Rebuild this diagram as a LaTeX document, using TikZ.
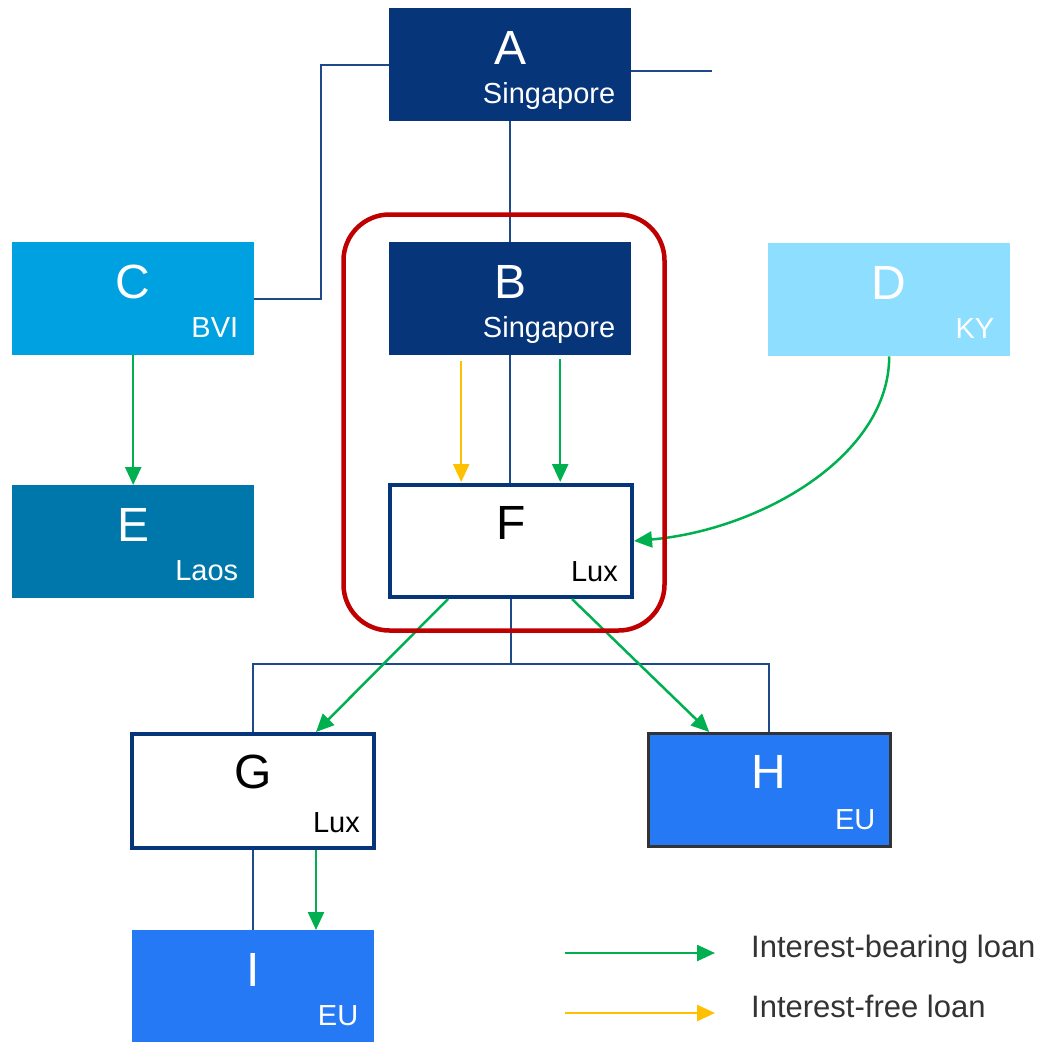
\documentclass[tikz,border=0pt]{standalone}
\usepackage{fontspec}
\setmainfont{Liberation Sans}
\usetikzlibrary{arrows.meta,calc}
\definecolor{navy}{HTML}{06357A}
\definecolor{linkblue}{HTML}{1F4A8A}
\definecolor{cyanbox}{HTML}{00A1E0}
\definecolor{skybox}{HTML}{8EDFFF}
\definecolor{tealbox}{HTML}{0077AA}
\definecolor{eubox}{HTML}{2679F5}
\definecolor{loangreen}{HTML}{00B050}
\definecolor{loanorange}{HTML}{FFC000}
\definecolor{groupred}{HTML}{C00000}
\definecolor{legendtext}{HTML}{333333}
\tikzset{
  entity/.style={inner sep=0pt, minimum width=242pt, minimum height=113pt, anchor=north west},
  luxbox/.style={entity, fill=white, draw=navy, line width=4pt},
  bigl/.style={font=\fontsize{48}{48}\selectfont, anchor=base, inner sep=0pt},
  subl/.style={font=\fontsize{29}{29}\selectfont, anchor=base east, inner sep=0pt},
  conn/.style={draw=linkblue, line width=2pt},
  gloan/.style={draw=loangreen, line width=2.5pt, -{Triangle[length=18pt,width=16pt]}},
  floan/.style={draw=loanorange, line width=2.5pt, -{Triangle[length=18pt,width=16pt]}},
  legtext/.style={font=\fontsize{31}{31}\selectfont, text=legendtext, anchor=base west, inner sep=0pt}
}
\begin{document}
\begin{tikzpicture}[x=1pt, y=-1pt]
\useasboundingbox (0,0) rectangle (1043,1041);

% entity boxes
\node[entity, fill=navy] (A) at (389,8) {};
\node[entity, fill=navy] (B) at (389,242) {};
\node[entity, fill=cyanbox] (C) at (12,242) {};
\node[entity, fill=skybox] (D) at (768,243) {};
\node[entity, fill=tealbox] (E) at (12,485) {};
\node[luxbox, minimum height=112pt] (F) at (388,483) {};
\node[luxbox, minimum height=114pt] (G) at (130,732) {};
\node[entity, fill=eubox, draw=black!80, line width=2.5pt] (H) at (647,732) {};
\node[entity, fill=eubox] (I) at (132,930) {};

% entity names and jurisdictions
\foreach \b/\n/\s/\c in {A/A/Singapore/white, B/B/Singapore/white, C/C/BVI/white,
                        D/D/KY/white, E/E/Laos/white, F/F/Lux/black, G/G/Lux/black,
                        H/H/EU/white, I/I/EU/white}{
  \node[bigl, text=\c] (\b name) at ([yshift=-56pt]\b.north) {\n};
  \node[subl, text=\c] (\b loc) at ([xshift=-16pt, yshift=18pt]\b.south east) {\s};
}

% ownership lines
\coordinate (Aout) at (712,71);
\coordinate (bus) at (510,664);
\draw[conn] (A.west) -- ++(-68,0) |- (C.east);
\draw[conn] (A.east |- Aout) -- (Aout);
\draw[conn] (A.south) -- (B.north);
\draw[conn] (B.south) -- (B.south |- F.north);
\draw[conn] (F.south) -- (F.south |- bus);
\draw[conn] (G.north) |- (bus) -| (H.north);
\draw[conn] (G.south) -- (G.south |- I.north);

% loans
\draw[gloan] (C.south) -- (E.north);
\draw[floan] ([xshift=-49pt, yshift=-6pt]B.south) -- ([xshift=-49pt, yshift=1pt]B.south |- F.north);
\draw[gloan] ([xshift=50pt, yshift=-4pt]B.south) -- ([xshift=50pt, yshift=1pt]B.south |- F.north);
\draw[gloan] (D.south) .. controls +(0,100) and (760,530) .. (F.east);
\draw[gloan] ([xshift=-63pt]F.south) -- ([xshift=63pt]G.north);
\draw[gloan] ([xshift=61pt]F.south) -- ([xshift=-60pt]H.north);
\draw[gloan] ([xshift=63pt]G.south) -- ([xshift=63pt]G.south |- I.north);

% group frame round B and F
\node[draw=groupred, line width=4.5pt, rounded corners=46pt, inner sep=0pt,
      minimum width=321pt, minimum height=416pt] (grp) at (504,422.5) {};

% legend
\coordinate (lg1s) at (565,953);
\coordinate (lg1e) at (715,953);
\coordinate (lg2s) at (565,1013);
\coordinate (lg2e) at (715,1013);
\draw[gloan] (lg1s) -- (lg1e);
\draw[floan] (lg2s) -- (lg2e);
\node[legtext] (leg1) at (751,957) {Interest-bearing loan};
\node[legtext] (leg2) at (751,1017) {Interest-free loan};
\end{tikzpicture}
\end{document}
